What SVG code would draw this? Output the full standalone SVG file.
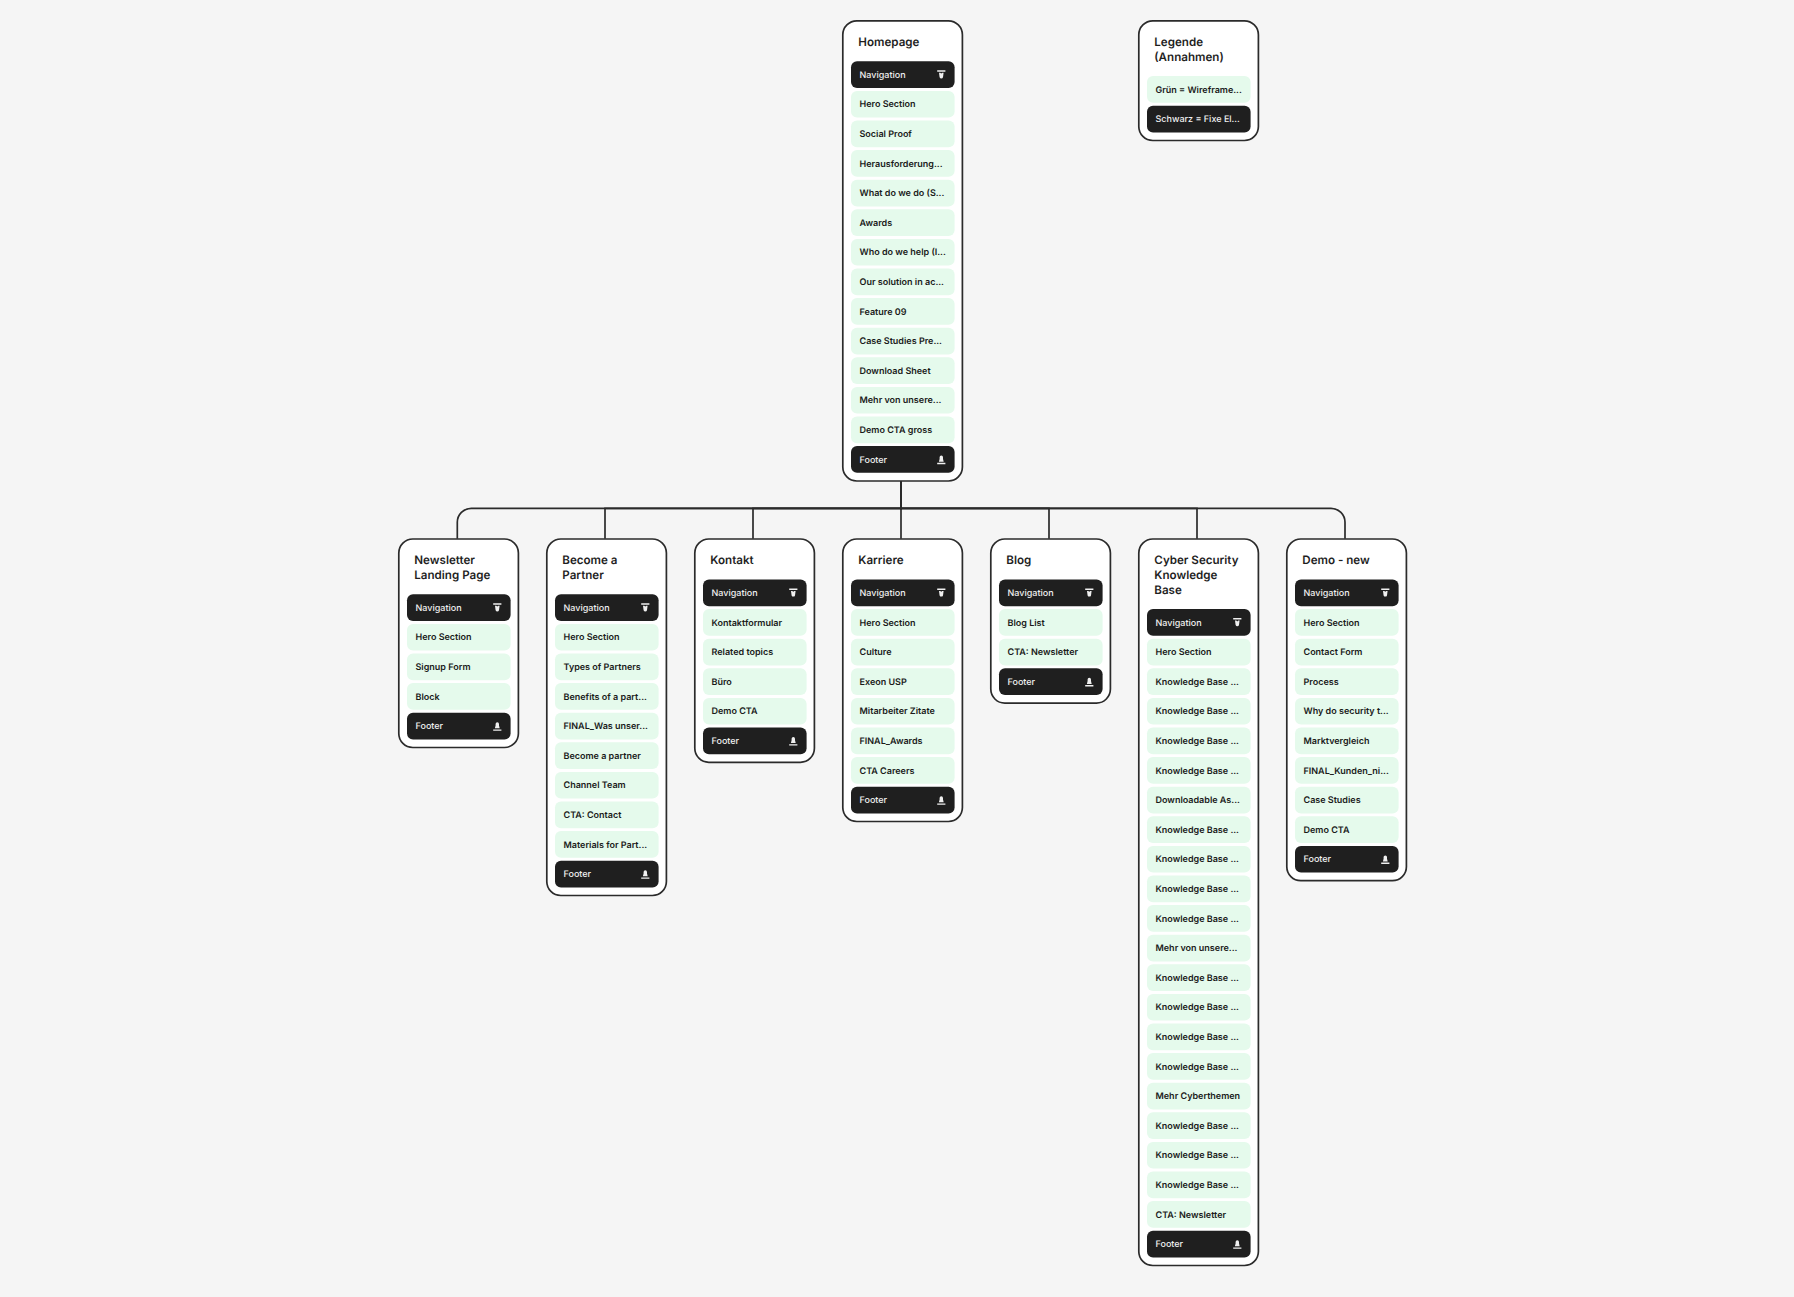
<svg xmlns="http://www.w3.org/2000/svg" width="1794" height="1297" viewBox="0 0 1794 1297">
<style>
.bg{fill:#f5f5f5}
.c{fill:#fff;stroke:#2b2b2b;stroke-width:1.7}
.g{fill:#e5faec}
.k{fill:#1f1f1f}
text{text-rendering:geometricPrecision}
.h{font:600 11.6px/1 Inter,"Liberation Sans",sans-serif;fill:#1f1f1f}
.t{font:600 9px/1 Inter,"Liberation Sans",sans-serif;fill:#1a1a1a}
.w{font:500 9px/1 Inter,"Liberation Sans",sans-serif;fill:#f0f0f0}
.e{fill:none;stroke:#2b2b2b;stroke-width:1.7}
</style>
<defs>
<g id="i-nav"><path fill="#f0f0f0" d="M-4.1 -4.7H4.1V-3.3H-4.1ZM-2.3 -2.2H-1L0 -1.4L1 -2.2H2.3L1.7 2.2A1.8 1.8 0 0 1 -1.7 2.2Z"/></g>
<g id="i-foot"><path fill="#f0f0f0" d="M-4.1 3.3H4.1V4.7H-4.1ZM-2.4 2.2L-1.7 -0.6V-2.2A1.7 1.7 0 0 1 1.7 -2.2V-0.6L2.4 2.2Z"/></g>
</defs>
<rect class="bg" width="1794" height="1297"/>
<g id="connectors">
<path class="e" d="M901 481V508.3H471.3A14 14 0 0 0 457.3 522.3V538.7"/>
<path class="e" d="M901 481V508.3H605V538.7"/>
<path class="e" d="M901 481V508.3H753V538.7"/>
<path class="e" d="M901 481V538.7"/>
<path class="e" d="M901 481V508.3H1049V538.7"/>
<path class="e" d="M901 481V508.3H1197V538.7"/>
<path class="e" d="M901 481V508.3H1331A14 14 0 0 1 1345 522.3V538.7"/>
</g>
<g id="homepage">
<rect class="c" x="842.8" y="20.8" width="119.6" height="460.2" rx="14"/>
<text class="h" x="858.3" y="46.2">Homepage</text>
<rect class="k" x="851" y="61.3" width="103.6" height="26.7" rx="6"/><text class="w" x="859.5" y="78">Navigation</text><use href="#i-nav" x="941.3" y="75"/>
<rect class="g" x="851" y="90.9" width="103.6" height="26.7" rx="6"/><text class="t" x="859.5" y="107.3">Hero Section</text>
<rect class="g" x="851" y="120.5" width="103.6" height="26.7" rx="6"/><text class="t" x="859.5" y="136.9">Social Proof</text>
<rect class="g" x="851" y="150.1" width="103.6" height="26.7" rx="6"/><text class="t" x="859.5" y="166.5">Herausforderung...</text>
<rect class="g" x="851" y="179.7" width="103.6" height="26.7" rx="6"/><text class="t" x="859.5" y="196.1">What do we do (S...</text>
<rect class="g" x="851" y="209.3" width="103.6" height="26.7" rx="6"/><text class="t" x="859.5" y="225.7">Awards</text>
<rect class="g" x="851" y="238.9" width="103.6" height="26.7" rx="6"/><text class="t" x="859.5" y="255.3">Who do we help (I...</text>
<rect class="g" x="851" y="268.5" width="103.6" height="26.7" rx="6"/><text class="t" x="859.5" y="284.9">Our solution in ac...</text>
<rect class="g" x="851" y="298.1" width="103.6" height="26.7" rx="6"/><text class="t" x="859.5" y="314.5">Feature 09</text>
<rect class="g" x="851" y="327.7" width="103.6" height="26.7" rx="6"/><text class="t" x="859.5" y="344.1">Case Studies Pre...</text>
<rect class="g" x="851" y="357.3" width="103.6" height="26.7" rx="6"/><text class="t" x="859.5" y="373.7">Download Sheet</text>
<rect class="g" x="851" y="386.9" width="103.6" height="26.7" rx="6"/><text class="t" x="859.5" y="403.3">Mehr von unsere...</text>
<rect class="g" x="851" y="416.5" width="103.6" height="26.7" rx="6"/><text class="t" x="859.5" y="432.9">Demo CTA gross</text>
<rect class="k" x="851" y="446.1" width="103.6" height="26.7" rx="6"/><text class="w" x="859.5" y="462.5">Footer</text><use href="#i-foot" x="941.3" y="459.5"/>
</g>
<g id="legende">
<rect class="c" x="1138.8" y="20.8" width="119.6" height="119.7" rx="14"/>
<text class="h" x="1154.3" y="46.2">Legende</text><text class="h" x="1154.3" y="61">(Annahmen)</text>
<rect class="g" x="1147" y="76.1" width="103.6" height="26.7" rx="6"/><text class="t" x="1155.5" y="92.5">Grün = Wireframe...</text>
<rect class="k" x="1147" y="105.7" width="103.6" height="26.7" rx="6"/><text class="w" x="1155.5" y="122.1">Schwarz = Fixe El...</text>
</g>
<g id="newsletter">
<rect class="c" x="398.8" y="539" width="119.6" height="208.5" rx="14"/>
<text class="h" x="414.3" y="564.2">Newsletter</text><text class="h" x="414.3" y="579">Landing Page</text>
<rect class="k" x="407" y="594.3" width="103.6" height="26.7" rx="6"/><text class="w" x="415.5" y="610.7">Navigation</text><use href="#i-nav" x="497.3" y="608"/>
<rect class="g" x="407" y="623.9" width="103.6" height="26.7" rx="6"/><text class="t" x="415.5" y="640.3">Hero Section</text>
<rect class="g" x="407" y="653.5" width="103.6" height="26.7" rx="6"/><text class="t" x="415.5" y="669.9">Signup Form</text>
<rect class="g" x="407" y="683.1" width="103.6" height="26.7" rx="6"/><text class="t" x="415.5" y="699.5">Block</text>
<rect class="k" x="407" y="712.7" width="103.6" height="26.7" rx="6"/><text class="w" x="415.5" y="729.1">Footer</text><use href="#i-foot" x="497.3" y="726.1"/>
</g>
<g id="partner">
<rect class="c" x="546.8" y="539" width="119.6" height="356.5" rx="14"/>
<text class="h" x="562.3" y="564.2">Become a</text><text class="h" x="562.3" y="579">Partner</text>
<rect class="k" x="555" y="594.3" width="103.6" height="26.7" rx="6"/><text class="w" x="563.5" y="610.7">Navigation</text><use href="#i-nav" x="645.3" y="608"/>
<rect class="g" x="555" y="623.9" width="103.6" height="26.7" rx="6"/><text class="t" x="563.5" y="640.3">Hero Section</text>
<rect class="g" x="555" y="653.5" width="103.6" height="26.7" rx="6"/><text class="t" x="563.5" y="669.9">Types of Partners</text>
<rect class="g" x="555" y="683.1" width="103.6" height="26.7" rx="6"/><text class="t" x="563.5" y="699.5">Benefits of a part...</text>
<rect class="g" x="555" y="712.7" width="103.6" height="26.7" rx="6"/><text class="t" x="563.5" y="729.1">FINAL_Was unser...</text>
<rect class="g" x="555" y="742.3" width="103.6" height="26.7" rx="6"/><text class="t" x="563.5" y="758.7">Become a partner</text>
<rect class="g" x="555" y="771.9" width="103.6" height="26.7" rx="6"/><text class="t" x="563.5" y="788.3">Channel Team</text>
<rect class="g" x="555" y="801.5" width="103.6" height="26.7" rx="6"/><text class="t" x="563.5" y="817.9">CTA: Contact</text>
<rect class="g" x="555" y="831.1" width="103.6" height="26.7" rx="6"/><text class="t" x="563.5" y="847.5">Materials for Part...</text>
<rect class="k" x="555" y="860.7" width="103.6" height="26.7" rx="6"/><text class="w" x="563.5" y="877.1">Footer</text><use href="#i-foot" x="645.3" y="874.1"/>
</g>
<g id="kontakt">
<rect class="c" x="694.8" y="539" width="119.6" height="223.3" rx="14"/>
<text class="h" x="710.3" y="564.2">Kontakt</text>
<rect class="k" x="703" y="579.5" width="103.6" height="26.7" rx="6"/><text class="w" x="711.5" y="595.9">Navigation</text><use href="#i-nav" x="793.3" y="593.2"/>
<rect class="g" x="703" y="609.1" width="103.6" height="26.7" rx="6"/><text class="t" x="711.5" y="625.5">Kontaktformular</text>
<rect class="g" x="703" y="638.7" width="103.6" height="26.7" rx="6"/><text class="t" x="711.5" y="655.1">Related topics</text>
<rect class="g" x="703" y="668.3" width="103.6" height="26.7" rx="6"/><text class="t" x="711.5" y="684.7">Büro</text>
<rect class="g" x="703" y="697.9" width="103.6" height="26.7" rx="6"/><text class="t" x="711.5" y="714.3">Demo CTA</text>
<rect class="k" x="703" y="727.5" width="103.6" height="26.7" rx="6"/><text class="w" x="711.5" y="743.9">Footer</text><use href="#i-foot" x="793.3" y="740.9"/>
</g>
<g id="karriere">
<rect class="c" x="842.8" y="539" width="119.6" height="282.5" rx="14"/>
<text class="h" x="858.3" y="564.2">Karriere</text>
<rect class="k" x="851" y="579.5" width="103.6" height="26.7" rx="6"/><text class="w" x="859.5" y="595.9">Navigation</text><use href="#i-nav" x="941.3" y="593.2"/>
<rect class="g" x="851" y="609.1" width="103.6" height="26.7" rx="6"/><text class="t" x="859.5" y="625.5">Hero Section</text>
<rect class="g" x="851" y="638.7" width="103.6" height="26.7" rx="6"/><text class="t" x="859.5" y="655.1">Culture</text>
<rect class="g" x="851" y="668.3" width="103.6" height="26.7" rx="6"/><text class="t" x="859.5" y="684.7">Exeon USP</text>
<rect class="g" x="851" y="697.9" width="103.6" height="26.7" rx="6"/><text class="t" x="859.5" y="714.3">Mitarbeiter Zitate</text>
<rect class="g" x="851" y="727.5" width="103.6" height="26.7" rx="6"/><text class="t" x="859.5" y="743.9">FINAL_Awards</text>
<rect class="g" x="851" y="757.1" width="103.6" height="26.7" rx="6"/><text class="t" x="859.5" y="773.5">CTA Careers</text>
<rect class="k" x="851" y="786.7" width="103.6" height="26.7" rx="6"/><text class="w" x="859.5" y="803.1">Footer</text><use href="#i-foot" x="941.3" y="800.1"/>
</g>
<g id="blog">
<rect class="c" x="990.8" y="539" width="119.6" height="164.1" rx="14"/>
<text class="h" x="1006.3" y="564.2">Blog</text>
<rect class="k" x="999" y="579.5" width="103.6" height="26.7" rx="6"/><text class="w" x="1007.5" y="595.9">Navigation</text><use href="#i-nav" x="1089.3" y="593.2"/>
<rect class="g" x="999" y="609.1" width="103.6" height="26.7" rx="6"/><text class="t" x="1007.5" y="625.5">Blog List</text>
<rect class="g" x="999" y="638.7" width="103.6" height="26.7" rx="6"/><text class="t" x="1007.5" y="655.1">CTA: Newsletter</text>
<rect class="k" x="999" y="668.3" width="103.6" height="26.7" rx="6"/><text class="w" x="1007.5" y="684.7">Footer</text><use href="#i-foot" x="1089.3" y="681.7"/>
</g>
<g id="cyber">
<rect class="c" x="1138.8" y="539" width="119.6" height="726.5" rx="14"/>
<text class="h" x="1154.3" y="564.2">Cyber Security</text><text class="h" x="1154.3" y="579">Knowledge</text><text class="h" x="1154.3" y="593.8">Base</text>
<rect class="k" x="1147" y="609.1" width="103.6" height="26.7" rx="6"/><text class="w" x="1155.5" y="625.5">Navigation</text><use href="#i-nav" x="1237.3" y="622.8"/>
<rect class="g" x="1147" y="638.7" width="103.6" height="26.7" rx="6"/><text class="t" x="1155.5" y="655.1">Hero Section</text>
<rect class="g" x="1147" y="668.3" width="103.6" height="26.7" rx="6"/><text class="t" x="1155.5" y="684.7">Knowledge Base ...</text>
<rect class="g" x="1147" y="697.9" width="103.6" height="26.7" rx="6"/><text class="t" x="1155.5" y="714.3">Knowledge Base ...</text>
<rect class="g" x="1147" y="727.5" width="103.6" height="26.7" rx="6"/><text class="t" x="1155.5" y="743.9">Knowledge Base ...</text>
<rect class="g" x="1147" y="757.1" width="103.6" height="26.7" rx="6"/><text class="t" x="1155.5" y="773.5">Knowledge Base ...</text>
<rect class="g" x="1147" y="786.7" width="103.6" height="26.7" rx="6"/><text class="t" x="1155.5" y="803.1">Downloadable As...</text>
<rect class="g" x="1147" y="816.3" width="103.6" height="26.7" rx="6"/><text class="t" x="1155.5" y="832.7">Knowledge Base ...</text>
<rect class="g" x="1147" y="845.9" width="103.6" height="26.7" rx="6"/><text class="t" x="1155.5" y="862.3">Knowledge Base ...</text>
<rect class="g" x="1147" y="875.5" width="103.6" height="26.7" rx="6"/><text class="t" x="1155.5" y="891.9">Knowledge Base ...</text>
<rect class="g" x="1147" y="905.1" width="103.6" height="26.7" rx="6"/><text class="t" x="1155.5" y="921.5">Knowledge Base ...</text>
<rect class="g" x="1147" y="934.7" width="103.6" height="26.7" rx="6"/><text class="t" x="1155.5" y="951.1">Mehr von unsere...</text>
<rect class="g" x="1147" y="964.3" width="103.6" height="26.7" rx="6"/><text class="t" x="1155.5" y="980.7">Knowledge Base ...</text>
<rect class="g" x="1147" y="993.9" width="103.6" height="26.7" rx="6"/><text class="t" x="1155.5" y="1010.3">Knowledge Base ...</text>
<rect class="g" x="1147" y="1023.5" width="103.6" height="26.7" rx="6"/><text class="t" x="1155.5" y="1039.9">Knowledge Base ...</text>
<rect class="g" x="1147" y="1053.1" width="103.6" height="26.7" rx="6"/><text class="t" x="1155.5" y="1069.5">Knowledge Base ...</text>
<rect class="g" x="1147" y="1082.7" width="103.6" height="26.7" rx="6"/><text class="t" x="1155.5" y="1099.1">Mehr Cyberthemen</text>
<rect class="g" x="1147" y="1112.3" width="103.6" height="26.7" rx="6"/><text class="t" x="1155.5" y="1128.7">Knowledge Base ...</text>
<rect class="g" x="1147" y="1141.9" width="103.6" height="26.7" rx="6"/><text class="t" x="1155.5" y="1158.3">Knowledge Base ...</text>
<rect class="g" x="1147" y="1171.5" width="103.6" height="26.7" rx="6"/><text class="t" x="1155.5" y="1187.9">Knowledge Base ...</text>
<rect class="g" x="1147" y="1201.1" width="103.6" height="26.7" rx="6"/><text class="t" x="1155.5" y="1217.5">CTA: Newsletter</text>
<rect class="k" x="1147" y="1230.7" width="103.6" height="26.7" rx="6"/><text class="w" x="1155.5" y="1247.1">Footer</text><use href="#i-foot" x="1237.3" y="1244.1"/>
</g>
<g id="demo">
<rect class="c" x="1286.8" y="539" width="119.6" height="341.7" rx="14"/>
<text class="h" x="1302.3" y="564.2">Demo - new</text>
<rect class="k" x="1295" y="579.5" width="103.6" height="26.7" rx="6"/><text class="w" x="1303.5" y="595.9">Navigation</text><use href="#i-nav" x="1385.3" y="593.2"/>
<rect class="g" x="1295" y="609.1" width="103.6" height="26.7" rx="6"/><text class="t" x="1303.5" y="625.5">Hero Section</text>
<rect class="g" x="1295" y="638.7" width="103.6" height="26.7" rx="6"/><text class="t" x="1303.5" y="655.1">Contact Form</text>
<rect class="g" x="1295" y="668.3" width="103.6" height="26.7" rx="6"/><text class="t" x="1303.5" y="684.7">Process</text>
<rect class="g" x="1295" y="697.9" width="103.6" height="26.7" rx="6"/><text class="t" x="1303.5" y="714.3">Why do security t...</text>
<rect class="g" x="1295" y="727.5" width="103.6" height="26.7" rx="6"/><text class="t" x="1303.5" y="743.9">Marktvergleich</text>
<rect class="g" x="1295" y="757.1" width="103.6" height="26.7" rx="6"/><text class="t" x="1303.5" y="773.5">FINAL_Kunden_ni...</text>
<rect class="g" x="1295" y="786.7" width="103.6" height="26.7" rx="6"/><text class="t" x="1303.5" y="803.1">Case Studies</text>
<rect class="g" x="1295" y="816.3" width="103.6" height="26.7" rx="6"/><text class="t" x="1303.5" y="832.7">Demo CTA</text>
<rect class="k" x="1295" y="845.9" width="103.6" height="26.7" rx="6"/><text class="w" x="1303.5" y="862.3">Footer</text><use href="#i-foot" x="1385.3" y="859.3"/>
</g>
</svg>
